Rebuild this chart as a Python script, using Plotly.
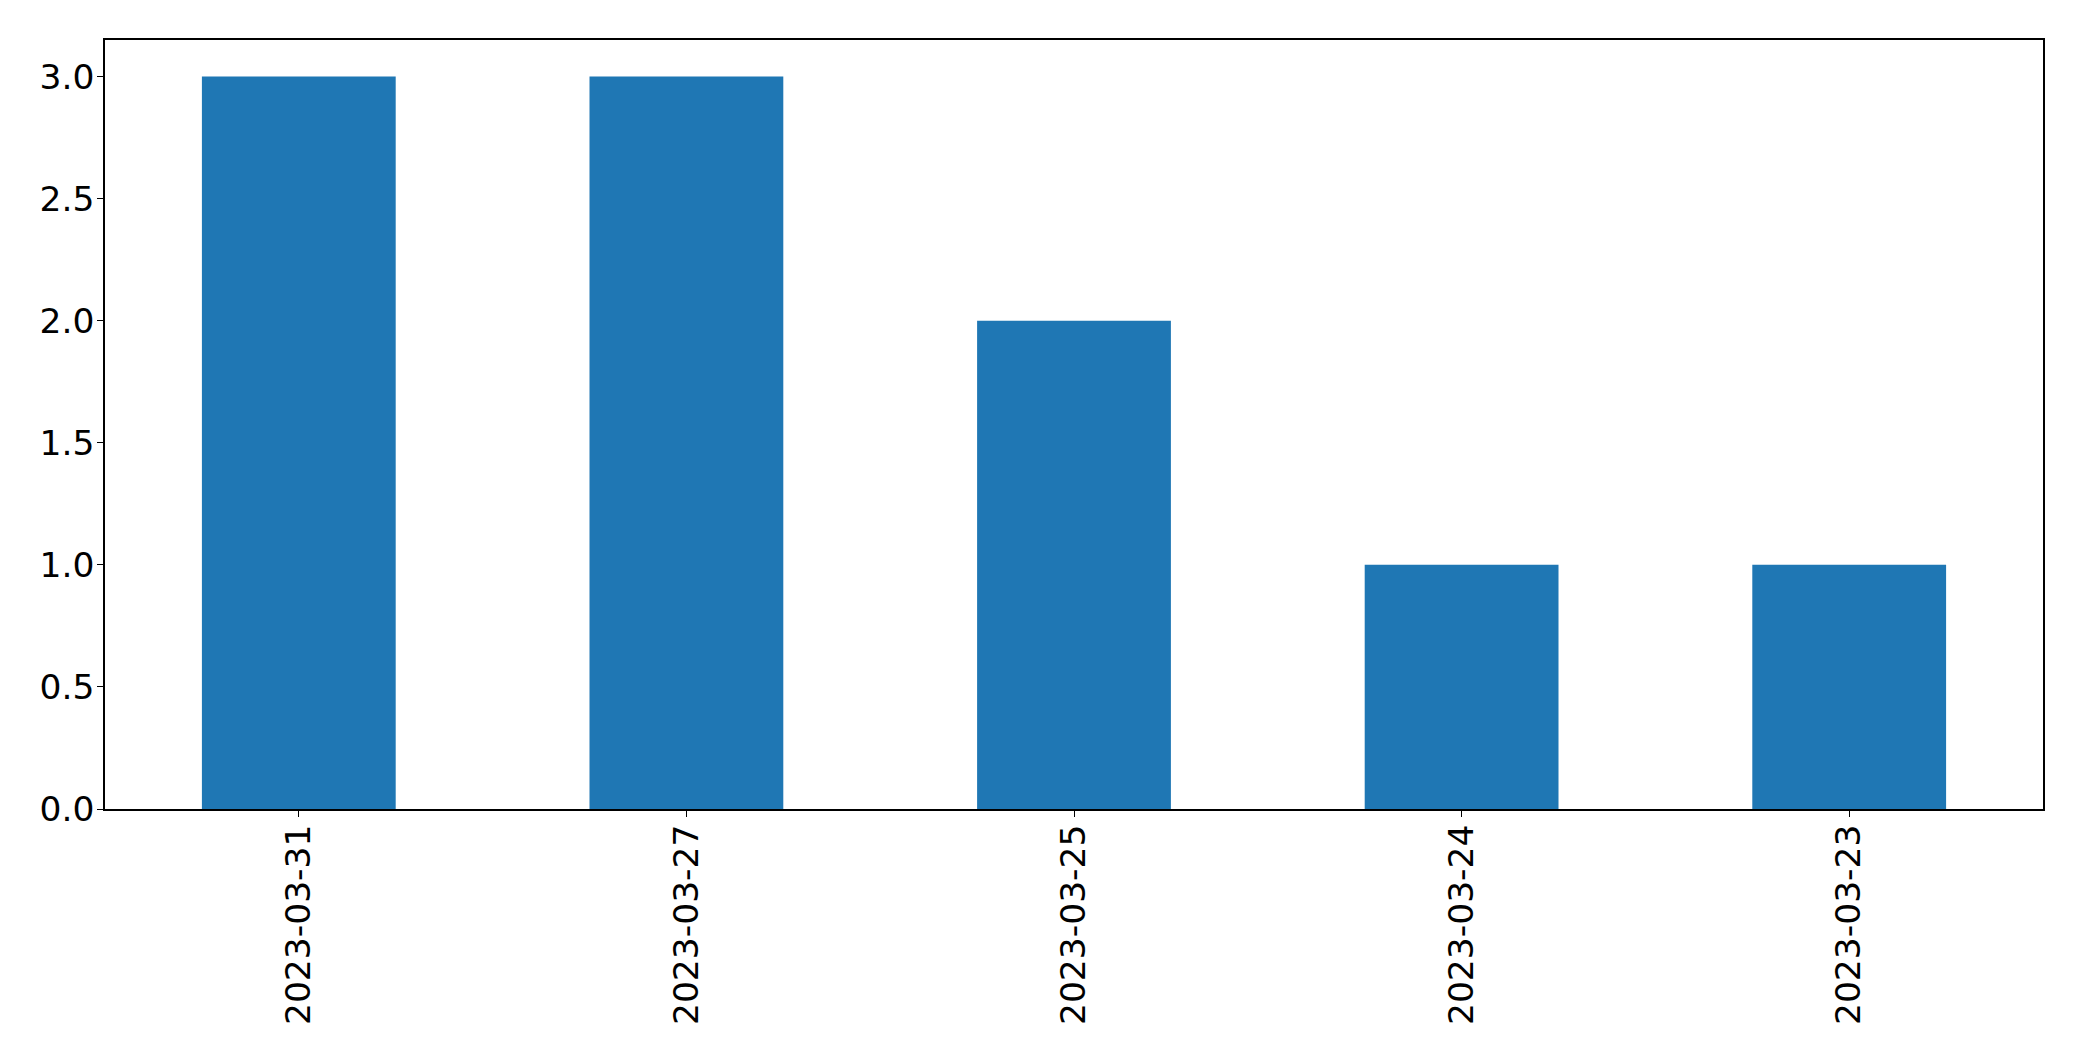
import plotly.graph_objects as go

categories = ["2023-03-31", "2023-03-27", "2023-03-25", "2023-03-24", "2023-03-23"]
values = [3, 3, 2, 1, 1]
y_ticks = [0.0, 0.5, 1.0, 1.5, 2.0, 2.5, 3.0]

fig = go.Figure(go.Bar(x=categories, y=values, marker=dict(color="#1f77b4", line=dict(width=0)), width=0.5))

font = dict(family="DejaVu Sans", size=34.5, color="black")
fig.update_layout(
    width=2066, height=1045,
    margin=dict(l=97, r=31, t=32, b=244, pad=0),
    paper_bgcolor="white", plot_bgcolor="white",
    showlegend=False, bargap=0.5,
    font=font,
)
fig.update_xaxes(
    type="category", range=[-0.5, 4.5], tickangle=-90,
    showline=True, linecolor="black", linewidth=1.5, mirror=True,
    ticks="outside", ticklen=6, tickwidth=1.3, tickcolor="black",
    showgrid=False, zeroline=False, tickfont=font, ticklabelstandoff=-6,
)
fig.update_yaxes(
    range=[0, 3.15], tickvals=y_ticks, ticktext=[f"{v:.1f}" for v in y_ticks],
    showline=True, linecolor="black", linewidth=1.5, mirror=True,
    ticks="outside", ticklen=6, tickwidth=1.3, tickcolor="black",
    showgrid=False, zeroline=False, tickfont=font, ticklabelstandoff=-4,
)
fig.write_html("out.html")
